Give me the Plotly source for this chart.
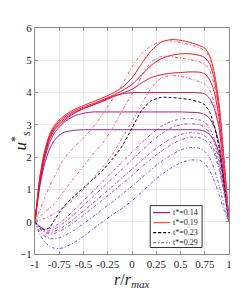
import plotly.graph_objects as go

# radial positions (r / r_max)
X = [-1, -0.95, -0.9, -0.85, -0.8, -0.75, -0.7, -0.6, -0.5, -0.4, -0.3, -0.2, -0.1,
     0, 0.1, 0.2, 0.3, 0.4, 0.5, 0.6, 0.7, 0.75, 0.8, 0.85, 0.9, 0.95, 1]

# solid profiles
S1 = [0, 1.4, 2.2, 2.7, 2.98, 3.15, 3.28, 3.47, 3.6, 3.72, 3.84, 3.98, 4.16, 4.45, 4.9, 5.3, 5.56, 5.64, 5.62, 5.55, 5.45, 5.38, 5.15, 4.6, 3.6, 1.9, 0]
S2 = [0, 1.35, 2.15, 2.65, 2.93, 3.1, 3.23, 3.42, 3.55, 3.66, 3.78, 3.91, 4.06, 4.25, 4.55, 4.85, 5.05, 5.15, 5.2, 5.2, 5.15, 5.08, 4.9, 4.4, 3.4, 1.8, 0]
S3 = [0, 1.3, 2.1, 2.6, 2.88, 3.05, 3.18, 3.38, 3.51, 3.62, 3.73, 3.86, 3.98, 4.1, 4.3, 4.47, 4.55, 4.6, 4.62, 4.64, 4.63, 4.58, 4.4, 4.0, 3.15, 1.65, 0]
S4 = [0, 1.25, 2.05, 2.55, 2.83, 3.0, 3.13, 3.35, 3.5, 3.62, 3.75, 3.88, 3.96, 4.0, 4.0, 4.0, 4.0, 4.0, 4.0, 4.0, 3.99, 3.96, 3.82, 3.5, 2.85, 1.5, 0]
S5 = [0, 1.2, 1.95, 2.45, 2.75, 2.93, 3.08, 3.27, 3.36, 3.4, 3.4, 3.4, 3.4, 3.4, 3.4, 3.4, 3.4, 3.4, 3.4, 3.39, 3.37, 3.32, 3.2, 2.93, 2.4, 1.3, 0]
S6 = [0, 1.1, 1.8, 2.25, 2.52, 2.68, 2.77, 2.83, 2.85, 2.85, 2.85, 2.85, 2.85, 2.85, 2.85, 2.85, 2.85, 2.85, 2.85, 2.85, 2.84, 2.8, 2.7, 2.5, 2.1, 1.15, 0]

# dash-dot profiles
D1 = [0, 0.35, 0.75, 1.1, 1.4, 1.7, 1.95, 2.3, 2.6, 2.93, 3.35, 3.8, 4.25, 4.8, 5.2, 5.45, 5.58, 5.6, 5.55, 5.48, 5.38, 5.3, 5.1, 4.5, 3.5, 1.85, 0]
D2 = [0, 0.15, 0.3, 0.42, 0.55, 0.75, 0.95, 1.35, 1.72, 2.1, 2.45, 2.9, 3.45, 3.95, 4.5, 4.95, 5.12, 5.12, 5.07, 5.02, 4.95, 4.88, 4.7, 4.2, 3.25, 1.65, 0]
D3 = [0, 0.05, 0.1, 0.17, 0.25, 0.35, 0.45, 0.7, 1.0, 1.35, 1.7, 2.1, 2.6, 3.1, 3.65, 4.15, 4.45, 4.53, 4.5, 4.43, 4.33, 4.26, 4.08, 3.65, 2.9, 1.5, 0]
K = [0, -0.15, -0.25, -0.18, 0.05, 0.28, 0.48, 0.78, 1.05, 1.32, 1.6, 1.95, 2.35, 2.9, 3.45, 3.75, 3.85, 3.85, 3.82, 3.78, 3.7, 3.62, 3.4, 2.95, 2.25, 1.15, 0]
P1 = [0, -0.15, -0.22, -0.22, -0.15, -0.05, 0.07, 0.35, 0.65, 0.95, 1.25, 1.55, 1.85, 2.15, 2.45, 2.72, 2.95, 3.1, 3.18, 3.2, 3.15, 3.08, 2.9, 2.55, 1.95, 1.05, 0]
P2 = [0, -0.18, -0.27, -0.28, -0.23, -0.14, -0.03, 0.22, 0.5, 0.78, 1.06, 1.35, 1.63, 1.92, 2.2, 2.48, 2.72, 2.9, 3.0, 3.04, 3.0, 2.93, 2.75, 2.42, 1.85, 1.0, 0]
P3 = [0, -0.2, -0.3, -0.33, -0.3, -0.23, -0.14, 0.08, 0.33, 0.58, 0.84, 1.1, 1.37, 1.63, 1.9, 2.15, 2.38, 2.57, 2.7, 2.76, 2.73, 2.66, 2.5, 2.2, 1.7, 0.92, 0]
P4 = [0, -0.22, -0.33, -0.38, -0.36, -0.3, -0.22, -0.02, 0.2, 0.44, 0.68, 0.93, 1.18, 1.43, 1.7, 1.95, 2.18, 2.38, 2.53, 2.62, 2.6, 2.53, 2.38, 2.1, 1.6, 0.88, 0]
B2 = [0, -0.3, -0.45, -0.52, -0.53, -0.5, -0.44, -0.27, -0.06, 0.16, 0.39, 0.62, 0.86, 1.1, 1.36, 1.62, 1.86, 2.06, 2.22, 2.3, 2.27, 2.18, 1.98, 1.62, 1.1, 0.5, 0]
B1 = [0, -0.4, -0.63, -0.76, -0.82, -0.83, -0.8, -0.65, -0.45, -0.22, 0.0, 0.22, 0.42, 0.65, 0.92, 1.2, 1.45, 1.66, 1.82, 1.91, 1.9, 1.8, 1.58, 1.25, 0.82, 0.35, 0]

LEGEND_LABELS = ["t*=0.14", "t*=0.19", "t*=0.23", "t*=0.29"]
XTICKS = [-1, -0.75, -0.5, -0.25, 0, 0.25, 0.5, 0.75, 1]
XTICKTEXT = ["-1", "-0.75", "-0.5", "-0.25", "0", "0.25", "0.5", "0.75", "1"]
YTICKS = [-1, 0, 1, 2, 3, 4, 5, 6]

DASHDOT = "3px,2px,1px,2px"
DASHED = "3px,2px"

curves = [
    (S6, "rgb(150,30,150)", "solid"),
    (S5, "rgb(175,25,120)", "solid"),
    (S4, "rgb(200,20,90)", "solid"),
    (S3, "rgb(225,20,60)", "solid"),
    (S2, "rgb(240,15,40)", "solid"),
    (S1, "rgb(255,20,30)", "solid"),
    (B1, "rgb(85,75,255)", DASHDOT),
    (B2, "rgb(115,80,240)", DASHDOT),
    (P4, "rgb(140,70,215)", DASHDOT),
    (P3, "rgb(155,65,200)", DASHDOT),
    (P2, "rgb(170,60,185)", DASHDOT),
    (P1, "rgb(185,60,175)", DASHDOT),
    (K, "rgb(0,0,0)", DASHED),
    (D3, "rgb(225,80,135)", DASHDOT),
    (D2, "rgb(240,85,115)", DASHDOT),
    (D1, "rgb(255,85,95)", DASHDOT),
]

fig = go.Figure()
for ys, col, dash in curves:
    fig.add_trace(go.Scatter(x=X, y=ys, mode="lines", showlegend=False,
                             line=dict(color=col, width=1, dash=dash, shape="spline", smoothing=0.6),
                             hoverinfo="skip"))

FONT = "Liberation Serif"

# the page body adds an 8px margin, so the figure is 8px smaller than the window
fig.update_layout(
    width=244, height=286,
    margin=dict(l=26.5, r=23, t=20, b=39.5),
    paper_bgcolor="white", plot_bgcolor="white",
    font=dict(family=FONT, color="#262626", size=10),
    showlegend=False,
)
fig.update_xaxes(range=[-1, 1], tickvals=XTICKS, ticktext=XTICKTEXT, tickangle=0, automargin=False,
                 showgrid=True, gridcolor="#ebebeb", gridwidth=1,
                 zeroline=False, showline=True, linecolor="#8c8c8c", linewidth=1, mirror="ticks",
                 ticks="inside", ticklen=3, tickcolor="#8c8c8c",
                 tickfont=dict(size=11, family=FONT, color="#262626"))
fig.update_yaxes(range=[-1, 6], tickvals=YTICKS, automargin=False,
                 showgrid=True, gridcolor="#ebebeb", gridwidth=1,
                 zeroline=False, showline=True, linecolor="#8c8c8c", linewidth=1, mirror="ticks",
                 ticks="inside", ticklen=3, tickcolor="#8c8c8c",
                 tickfont=dict(size=11, family=FONT, color="#262626"),
                 title=dict(text="<i>u</i><sup>*</sup><sub><i>s</i></sub>", standoff=10,
                            font=dict(size=17, family=FONT, color="#262626")))

# x-axis title as annotation (paper coords)
fig.add_annotation(xref="paper", yref="paper", x=0.5, y=-0.068, xanchor="center", yanchor="top",
                   text="<i>r</i>/<i>r</i><sub><i>max</i></sub>", showarrow=False,
                   font=dict(size=16, family=FONT, color="#262626"))

# manual legend box (paper coords, window pixels)
def px2x(px):
    return (px - 34.5) / 194.5

def py2y(py):
    return (294 - 39.5 - py) / 226.5

legend_colors = ["rgb(150,30,150)", "rgb(255,80,80)", "rgb(0,0,0)", "rgb(110,110,255)"]
legend_dash = ["solid", "solid", DASHED, DASHDOT]
fig.add_shape(type="rect", xref="paper", yref="paper",
              x0=px2x(150), x1=px2x(202), y0=py2y(248), y1=py2y(206),
              line=dict(color="#333333", width=1), fillcolor="white", layer="above")
rows = [213, 223, 233, 243]
for i, lab in enumerate(LEGEND_LABELS):
    fig.add_shape(type="line", xref="paper", yref="paper",
                  x0=px2x(153), x1=px2x(170), y0=py2y(rows[i]), y1=py2y(rows[i]),
                  line=dict(color=legend_colors[i], width=1.3, dash=legend_dash[i]), layer="above")
    fig.add_annotation(xref="paper", yref="paper", x=px2x(171), y=py2y(rows[i]),
                       text=lab, showarrow=False, xanchor="left", yanchor="middle",
                       font=dict(size=8, family=FONT, color="#262626"))

fig.write_html("out.html")
